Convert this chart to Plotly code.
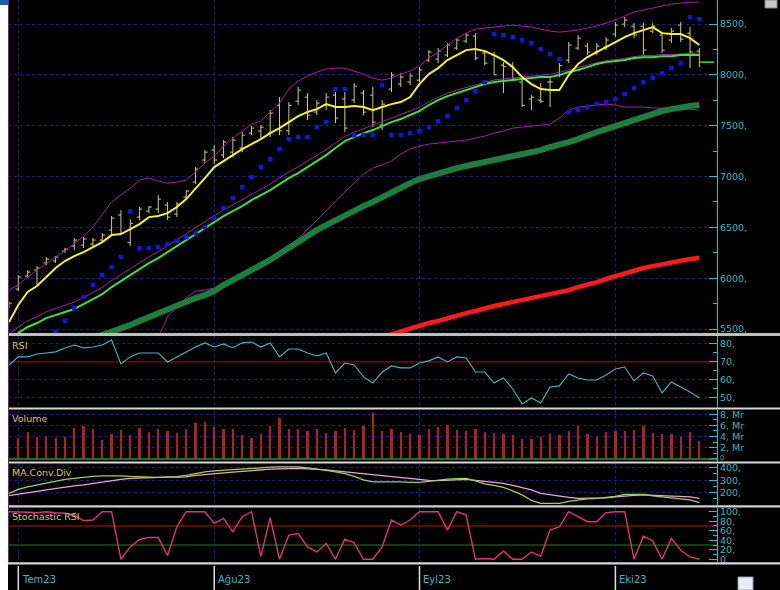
import plotly.graph_objects as go

# ---------------- data (trading-day index; 0 = first July session) ----------------
idx = list(range(-1, 74))

open_ = [5716, 5893, 6021, 6080, 6149, 6169, 6267, 6316, 6326, 6336, 6375, 6473, 6621, 6350, 6601, 6660,
         6680, 6719, 6631, 6798, 6945, 7162, 7260, 7211, 7240, 7280, 7427, 7447, 7427, 7700, 7450,
         7742, 7781, 7634, 7703, 7801, 7762, 7752, 7821, 7801, 7506, 7860, 7909, 7929, 7948, 8145,
         8155, 8194, 8263, 8332, 8381, 8214, 8194, 8096, 8086, 7929, 7762, 7752, 7929, 7997, 8145,
         8263, 8283, 8224, 8273, 8401, 8499, 8479, 8479, 8430, 8391, 8342, 8489, 8410, 8233]
high = [5765, 6031, 6080, 6119, 6208, 6218, 6296, 6395, 6405, 6395, 6444, 6611, 6670, 6581, 6700, 6709,
        6818, 6749, 6749, 6867, 7093, 7260, 7309, 7358, 7388, 7437, 7496, 7506, 7653, 7781, 7732,
        7880, 7821, 7752, 7821, 7830, 7830, 7919, 7850, 7880, 7752, 8027, 8017, 8017, 8076, 8243,
        8263, 8312, 8361, 8410, 8410, 8243, 8224, 8125, 8125, 7968, 7801, 7919, 7968, 8115, 8322,
        8391, 8312, 8312, 8371, 8519, 8568, 8509, 8509, 8509, 8420, 8460, 8519, 8470, 8263]
low = [5706, 5873, 6001, 5933, 6129, 6149, 6247, 6277, 6296, 6306, 6355, 6424, 6424, 6316, 6572, 6640,
       6640, 6572, 6601, 6788, 6926, 7132, 7122, 7181, 7191, 7240, 7407, 7378, 7388, 7407, 7407,
       7703, 7555, 7604, 7653, 7526, 7437, 7722, 7604, 7486, 7457, 7830, 7880, 7899, 7929, 8125,
       8115, 8174, 8243, 8312, 8145, 8096, 7997, 7820, 7948, 7683, 7653, 7722, 7683, 7978, 8115,
       8243, 8194, 8194, 8243, 8371, 8470, 8361, 8194, 8410, 8214, 8312, 8322, 8066, 8076]
close = [5755, 6011, 6060, 6100, 6188, 6208, 6286, 6375, 6385, 6375, 6424, 6591, 6440, 6540, 6680, 6700,
         6778, 6601, 6729, 6857, 7073, 7240, 7162, 7339, 7358, 7407, 7476, 7486, 7624, 7450, 7700,
         7850, 7604, 7722, 7781, 7575, 7476, 7889, 7634, 7535, 7712, 7997, 7978, 7988, 8047, 8224,
         8233, 8293, 8342, 8391, 8165, 8115, 8000, 8080, 7960, 7700, 7780, 7740, 7930, 8090, 8293,
         8361, 8224, 8283, 8342, 8489, 8538, 8391, 8243, 8479, 8243, 8430, 8351, 8224, 8125]

ma_fast = [5569, 5736, 5864, 5923, 6011, 6100, 6169, 6218, 6257, 6306, 6355, 6424, 6434, 6483, 6532,
           6601, 6611, 6640, 6700, 6778, 6877, 6985, 7093, 7152, 7211, 7270, 7319, 7368, 7427, 7476,
           7535, 7594, 7634, 7663, 7712, 7683, 7683, 7693, 7683, 7653, 7683, 7712, 7732, 7781, 7909,
           8007, 8066, 8145, 8194, 8243, 8253, 8233, 8194, 8145, 8076, 7978, 7909, 7860, 7850, 7850,
           7998, 8106, 8175, 8224, 8273, 8322, 8371, 8410, 8440, 8470, 8410, 8401, 8401, 8361, 8293]
ma_mid = [5392, 5461, 5520, 5559, 5608, 5638, 5667, 5697, 5746, 5796, 5844, 5913, 5972, 6031, 6090,
          6149, 6198, 6257, 6316, 6375, 6434, 6493, 6552, 6611, 6660, 6709, 6768, 6818, 6867, 6926,
          6985, 7034, 7093, 7152, 7211, 7280, 7348, 7388, 7427, 7457, 7496, 7535, 7565, 7604, 7644,
          7703, 7752, 7791, 7821, 7850, 7880, 7909, 7929, 7939, 7948, 7958, 7968, 7978, 7978, 7997,
          8027, 8047, 8076, 8106, 8125, 8135, 8145, 8165, 8174, 8174, 8184, 8184, 8194, 8194, 8194]
bb_mid = [5450, 5520, 5580, 5620, 5670, 5700, 5730, 5765, 5810, 5860, 5910, 5975, 6035, 6095, 6150,
          6210, 6260, 6320, 6380, 6440, 6500, 6560, 6615, 6670, 6720, 6770, 6825, 6875, 6925, 6985,
          7045, 7095, 7150, 7205, 7265, 7330, 7395, 7435, 7470, 7500, 7535, 7575, 7605, 7640, 7680,
          7735, 7780, 7820, 7850, 7875, 7905, 7930, 7950, 7960, 7970, 7980, 7990, 8000, 8005, 8025,
          8050, 8070, 8095, 8120, 8140, 8150, 8160, 8180, 8190, 8190, 8200, 8200, 8205, 8210, 8215]
bb_upper = [5883, 5933, 6011, 6080, 6139, 6208, 6267, 6336, 6414, 6503, 6621, 6749, 6818, 6886, 6965,
            6985, 6955, 6935, 6945, 6965, 7044, 7132, 7201, 7299, 7378, 7447, 7516, 7545, 7634, 7722,
            7860, 7939, 7988, 8027, 8057, 8066, 8066, 8037, 8007, 7968, 7948, 7968, 8007, 8037, 8086,
            8165, 8224, 8293, 8361, 8410, 8450, 8460, 8470, 8479, 8489, 8479, 8470, 8450, 8430, 8420,
            8430, 8440, 8460, 8479, 8509, 8538, 8578, 8617, 8637, 8656, 8676, 8696, 8705, 8715, 8715]
bb_lower = [5060, 5080, 5090, 5100, 5110, 5115, 5120, 5125, 5130, 5135, 5140, 5150, 5160, 5170, 5190,
            5260, 5421, 5618, 5726, 5805, 5873, 5883, 5903, 5952, 6001, 6031, 6060, 6100, 6159, 6228,
            6296, 6385, 6483, 6572, 6660, 6759, 6847, 6936, 7024, 7083, 7113, 7152, 7221, 7270, 7299,
            7319, 7329, 7339, 7348, 7358, 7378, 7398, 7427, 7447, 7476, 7486, 7496, 7506, 7516, 7575,
            7653, 7683, 7693, 7703, 7712, 7703, 7683, 7683, 7683, 7673, 7673, 7663, 7663, 7663, 7653]
ma_long = [4998, 5077, 5126, 5175, 5225, 5274, 5313, 5352, 5392, 5421, 5441, 5470, 5500, 5539, 5579,
           5618, 5647, 5687, 5726, 5765, 5805, 5834, 5873, 5933, 5982, 6031, 6080, 6119, 6180, 6240,
           6300, 6365, 6424, 6473, 6522, 6572, 6621, 6660, 6709, 6749, 6798, 6837, 6886, 6935, 6975,
           7004, 7034, 7063, 7083, 7103, 7122, 7142, 7162, 7181, 7201, 7221, 7240, 7260, 7290, 7309,
           7339, 7368, 7407, 7437, 7467, 7496, 7535, 7565, 7594, 7624, 7644, 7663, 7683, 7693, 7703]
ma_200 = [None] * 39 + [5392, 5421, 5441, 5470, 5500, 5530, 5559, 5579, 5608, 5628, 5657, 5677, 5706,
                        5726, 5746, 5765, 5785, 5805, 5824, 5844, 5864, 5883, 5913, 5933, 5962, 5992,
                        6021, 6050, 6070, 6100, 6119, 6139, 6159, 6169, 6188, 6198]
sar = [None, None, None, 5250, 5360, 5468, 5579, 5706, 5815, 5933, 6031, 6110, 6208, 6655, 6296, 6296,
       6306, 6336, 6365, 6405, 6444, 6503, 6591, 6690, 6788, 6896, 6995, 7093, 7171, 7270, 7368,
       7388, 7388, 7486, 7535, 7860, 7860, 7407, 7407, 7407, 7899, 7407, 7407, 7427, 7447, 7486,
       7545, 7594, 7673, 7752, 7840, 7929, 8401, 8391, 8371, 8342, 8312, 8253, 8204, 8155, 7634,
       7653, 7683, 7712, 7732, 7762, 7811, 7870, 7929, 7968, 8017, 8066, 8115, 8568, 8548]

rsi = [68.3, 72.8, 72.8, 74.4, 75.0, 75.6, 77.8, 79.4, 77.8, 78.3, 79.4, 82.2, 68.9, 72.8, 75.0, 75.0,
       75.0, 70.0, 72.8, 75.6, 78.3, 80.6, 78.3, 80.0, 77.8, 80.6, 81.1, 78.3, 80.6, 72.8, 77.2,
       77.2, 75.0, 73.3, 75.0, 63.9, 69.4, 68.3, 61.7, 58.3, 64.4, 67.8, 66.7, 66.7, 69.4, 70.6,
       72.8, 70.0, 72.8, 72.2, 64.4, 64.4, 58.3, 61.1, 55.0, 46.7, 50.0, 47.2, 56.1, 56.7, 63.3,
       61.1, 60.0, 60.0, 62.8, 66.1, 67.2, 59.4, 63.9, 62.2, 52.8, 58.9, 56.1, 53.3, 50.0]
volume_mr = [None, 3.8, 4.9, 4.1, 4.1, 3.8, 4.1, 5.6, 5.9, 5.4, 3.4, 4.5, 5.2, 4.3, 5.7, 4.9, 5.4, 5.0,
             4.7, 5.4, 6.5, 6.7, 5.8, 5.5, 5.4, 4.3, 3.8, 4.6, 6.0, 7.4, 5.4, 5.5, 5.1, 5.4, 4.8, 5.0,
             5.7, 5.2, 6.0, 8.3, 5.0, 5.5, 4.9, 4.5, 4.3, 5.4, 5.8, 6.1, 5.2, 5.0, 5.5, 4.9, 4.7, 4.5,
             4.3, 3.7, 3.7, 4.0, 4.5, 4.3, 5.0, 6.0, 4.5, 4.1, 4.9, 5.0, 5.0, 5.2, 6.0, 4.7, 4.5, 4.5,
             4.1, 4.9, 3.3]
macd = [195, 227, 246, 262, 278, 294, 306, 314, 323, 330, 334, 336, 334, 330, 326, 324, 323, 326, 328,
        338, 354, 366, 374, 379, 386, 392, 398, 402, 404, 406, 408, 406, 399, 390, 378, 366, 352, 330,
        302, 286, 287, 288, 286, 282, 282, 290, 300, 308, 312, 314, 294, 270, 258, 242, 214, 182, 138,
        115, 115, 115, 130, 142, 150, 155, 164, 170, 187, 187, 186, 174, 166, 159, 152, 142, 120]
macd_signal = [176, 186, 195, 210, 222, 234, 242, 254, 262, 274, 286, 296, 306, 314, 318, 320, 323, 324,
               325, 326, 338, 346, 350, 358, 364, 370, 378, 383, 388, 391, 394, 394, 391, 388, 382, 374,
               366, 358, 348, 342, 334, 326, 318, 310, 302, 298, 296, 298, 302, 306, 298, 290, 282, 274,
               258, 242, 222, 195, 182, 170, 162, 155, 155, 155, 158, 166, 174, 178, 182, 180, 176, 171,
               168, 166, 155]
stoch_rsi = [100, 100, 98.7, 97.9, 100, 97.9, 96.6, 93.0, 81.0, 82.5, 100, 100, 0, 26.0, 41.6, 45.9,
             45.9, 7.8, 68.3, 100, 100, 100, 75.5, 86.0, 57.7, 89.4, 100, 6.3, 87.3, 0, 50.7, 54.3,
             26.0, 15.4, 33.2, 0, 42.3, 34.5, 0, 0, 26.0, 82.5, 71.9, 82.5, 100, 100, 100, 61.3, 100,
             93.0, 0, 1.5, 0, 17.5, 0, 0, 15.4, 6.3, 61.3, 68.3, 100, 89.4, 78.9, 78.9, 97.9, 100, 100,
             0, 48.6, 38.7, 0, 43.8, 19.0, 4.9, 0]

month_pos = [0, 21, 43, 64]
month_labels = ["Tem23", "Ağu23", "Eyl23", "Eki23"]
price_ticks = [5500, 6000, 6500, 7000, 7500, 8000, 8500]
rsi_ticks = [50, 60, 70, 80]
vol_ticks = [2, 4, 6, 8]
vol_ticktext = ["2, Mr", "4, Mr", "6, Mr", "8, Mr"]
vol_zero_label = "0"
macd_ticks = [100, 200, 300, 400]
stoch_ticks = [0, 20, 40, 60, 80, 100]

# ---------------- layout geometry ----------------
W, H = 780, 590
ML, MR, MT, MB = 8, 63, 0, 27
PW, PH = W - ML - MR, H - MT - MB


def fx(p):  # pixel x -> paper x
    return (p - ML) / PW


def fy(p):  # pixel y -> paper y
    return (PH - (p - MT)) / PH


CYAN = "#3fb6c6"
GRID = "#1a2086"
TITLE_C = "#d8c862"
FONT = "DejaVu Sans"
TICK_SIZE = 9.5
xr = [-1.104, 74.89]

fig = go.Figure()

# main panel
band_c = "#a51fa8"
fig.add_trace(go.Scatter(x=idx, y=bb_upper, mode="lines", line=dict(color=band_c, width=1)))
fig.add_trace(go.Scatter(x=idx, y=bb_lower, mode="lines", line=dict(color=band_c, width=1)))
fig.add_trace(go.Scatter(x=idx, y=bb_mid, mode="lines", line=dict(color=band_c, width=1)))
fig.add_trace(go.Scatter(x=idx, y=ma_long, mode="lines", line=dict(color="#1d7e40", width=6)))
fig.add_trace(go.Scatter(x=idx, y=ma_200, mode="lines", line=dict(color="#ff1a1a", width=4.5)))
fig.add_trace(go.Scatter(x=idx, y=ma_mid, mode="lines", line=dict(color="#3ce23c", width=2)))
fig.add_trace(go.Scatter(x=idx, y=sar, mode="markers",
                         marker=dict(symbol="square", size=4.5, color="#1414e6", line=dict(width=0))))
bar_c = "#d6cc6e"
fig.add_trace(go.Ohlc(x=idx, open=open_, high=high, low=low, close=close, tickwidth=0.3,
                      increasing=dict(line=dict(color=bar_c, width=1)),
                      decreasing=dict(line=dict(color=bar_c, width=1))))
fig.add_trace(go.Scatter(x=idx, y=ma_fast, mode="lines", line=dict(color="#f6f232", width=2)))
last_i = idx[-1]
fig.add_trace(go.Scatter(x=[last_i + 0.25, last_i + 1.6], y=[close[-1], close[-1]], mode="lines",
                         line=dict(color="#3ce23c", width=1.5)))

# RSI
fig.add_trace(go.Scatter(x=idx, y=rsi, mode="lines", line=dict(color="#48b6ca", width=1.1),
                         xaxis="x2", yaxis="y2"))
# Volume
fig.add_trace(go.Bar(x=idx, y=volume_mr, width=0.24, marker=dict(color="#b41e1e", line=dict(width=0)),
                     xaxis="x3", yaxis="y3"))
# MACD
fig.add_trace(go.Scatter(x=idx, y=macd_signal, mode="lines", line=dict(color="#e6a6d8", width=1.3),
                         xaxis="x4", yaxis="y4"))
fig.add_trace(go.Scatter(x=idx, y=macd, mode="lines", line=dict(color="#a4d04c", width=1.3),
                         xaxis="x4", yaxis="y4"))
# Stochastic RSI
fig.add_trace(go.Scatter(x=idx, y=stoch_rsi, mode="lines", line=dict(color="#e2327c", width=1.4),
                         xaxis="x5", yaxis="y5"))


def xaxis(anchor):
    return dict(domain=[0, 1], range=xr, anchor=anchor, showticklabels=False, ticks="",
                tickvals=month_pos, showgrid=True, gridcolor=GRID, griddash="dot", gridwidth=1,
                zeroline=False, showline=False, fixedrange=True, rangeslider=dict(visible=False))


def yaxis(anchor, domain, rng, tickvals, ticktext, minor_dtick, minor_tick0, grid=True):
    return dict(domain=domain, range=rng, anchor=anchor, side="right", ticks="inside", ticklen=8,
                tickwidth=1, tickcolor=CYAN, showline=True, linecolor=CYAN, linewidth=1,
                tickmode="array", tickvals=tickvals, ticktext=ticktext,
                tickfont=dict(family=FONT, size=TICK_SIZE, color=CYAN),
                showgrid=grid, gridcolor=GRID, griddash="dot", gridwidth=1, zeroline=False,
                minor=dict(ticks="inside", ticklen=4, tickcolor=CYAN, dtick=minor_dtick,
                           tick0=minor_tick0, showgrid=False),
                fixedrange=True)


layout = dict(
    width=W, height=H, margin=dict(l=ML, r=MR, t=MT, b=MB, pad=0),
    paper_bgcolor="black", plot_bgcolor="black", showlegend=False, bargap=0,
    xaxis=xaxis("y"), xaxis2=xaxis("y2"), xaxis3=xaxis("y3"), xaxis4=xaxis("y4"), xaxis5=xaxis("y5"),
    yaxis=yaxis("x", [fy(333), fy(0)], [5461, 8736], price_ticks, [f"{v}," for v in price_ticks],
                250, 5500),
    yaxis2=yaxis("x2", [fy(407.5), fy(335.5)], [44.7, 84.7], rsi_ticks, [f"{v}," for v in rsi_ticks],
                 5, 50),
    yaxis3=yaxis("x3", [fy(461.5), fy(409.5)], [-0.45, 8.84], vol_ticks, vol_ticktext, 1, 0),
    yaxis4=yaxis("x4", [fy(505), fy(463.5)], [101.6, 433.6], macd_ticks, [f"{v}," for v in macd_ticks],
                 50, 100),
    yaxis5=yaxis("x5", [fy(562), fy(507.5)], [-5.7, 108.8], stoch_ticks,
                 ["0"] + [f"{v}," for v in stoch_ticks[1:]], 10, 0, grid=False),
)
fig.update_layout(**layout)

shapes = []
# level lines
shapes.append(dict(type="line", xref="paper", yref="y2", x0=0, x1=1, y0=70, y1=70,
                   line=dict(color="#8c1818", width=1), layer="below"))
shapes.append(dict(type="line", xref="paper", yref="y3", x0=0, x1=1, y0=0, y1=0,
                   line=dict(color="#2e8b2e", width=1.5), layer="above"))
shapes.append(dict(type="line", xref="paper", yref="y5", x0=0, x1=1, y0=70, y1=70,
                   line=dict(color="#b01818", width=1), layer="below"))
shapes.append(dict(type="line", xref="paper", yref="y5", x0=0, x1=1, y0=30, y1=30,
                   line=dict(color="#2a7a2a", width=1), layer="below"))
# panel separators
for top, bot, col in [(333, 336, "#b9c2b9"), (407.6, 409.6, "#d6d6d6"), (461.6, 463.6, "#d6d6d6"),
                      (505.2, 507.4, "#d0d0d0"), (562.3, 564.6, "#d6d6d6")]:
    shapes.append(dict(type="rect", xref="paper", yref="paper", x0=fx(8), x1=fx(W), y0=fy(bot),
                       y1=fy(top), fillcolor=col, line=dict(width=0), layer="above"))
# left border
shapes.append(dict(type="line", xref="paper", yref="paper", x0=fx(8.5), x1=fx(8.5), y0=fy(562),
                   y1=fy(0), line=dict(color="#7c1e80", width=1), layer="above"))
# white strip + blue corner
shapes.append(dict(type="rect", xref="paper", yref="paper", x0=fx(0), x1=fx(8), y0=fy(H), y1=fy(0),
                   fillcolor="white", line=dict(width=0), layer="above"))
shapes.append(dict(type="rect", xref="paper", yref="paper", x0=fx(0), x1=fx(8), y0=fy(5), y1=fy(0),
                   fillcolor="#1f5fa8", line=dict(width=0), layer="above"))
# small window icons
shapes.append(dict(type="rect", xref="paper", yref="paper", x0=fx(765), x1=fx(777), y0=fy(8), y1=fy(0),
                   fillcolor="#c8c8c8", line=dict(color="#808080", width=1), layer="above"))
shapes.append(dict(type="rect", xref="paper", yref="paper", x0=fx(738), x1=fx(753), y0=fy(590),
                   y1=fy(577), fillcolor="#e8ecf4", line=dict(color="#9098b0", width=1), layer="above"))
# month tick marks on the date strip
for m in month_pos:
    shapes.append(dict(type="line", xref="x5", yref="paper", x0=m, x1=m, y0=fy(566), y1=fy(H),
                       line=dict(color="#e0e0e0", width=1.5), layer="above"))
# major tick for volume zero (label drawn as annotation)
shapes.append(dict(type="line", xref="paper", yref="y3", x0=fx(709), x1=fx(717), y0=0, y1=0,
                   line=dict(color=CYAN, width=1), layer="above"))
fig.update_layout(shapes=shapes)

ann = []
for m, lbl in zip(month_pos, month_labels):
    ann.append(dict(x=m, y=fy(579), xref="x5", yref="paper", text=lbl, showarrow=False,
                    xanchor="left", yanchor="middle", xshift=2,
                    font=dict(family=FONT, size=10, color=CYAN)))
for text, ypix in [("RSI", 345), ("Volume", 418), ("MA.Conv.Div", 472), ("Stochastic RSI", 516.5)]:
    ann.append(dict(x=fx(10), y=fy(ypix), xref="paper", yref="paper", text=text, showarrow=False,
                    xanchor="left", yanchor="middle", font=dict(family=FONT, size=9.5, color=TITLE_C)))
ann.append(dict(x=fx(719), y=fy(457.9), xref="paper", yref="paper", text=vol_zero_label, showarrow=False,
                xanchor="left", yanchor="middle", borderpad=0,
                font=dict(family=FONT, size=6.8, color=CYAN)))
fig.update_layout(annotations=ann)

fig.write_html("out.html", config={"displayModeBar": False},
               post_script="document.body.style.margin='0';document.body.style.overflow='hidden';")
